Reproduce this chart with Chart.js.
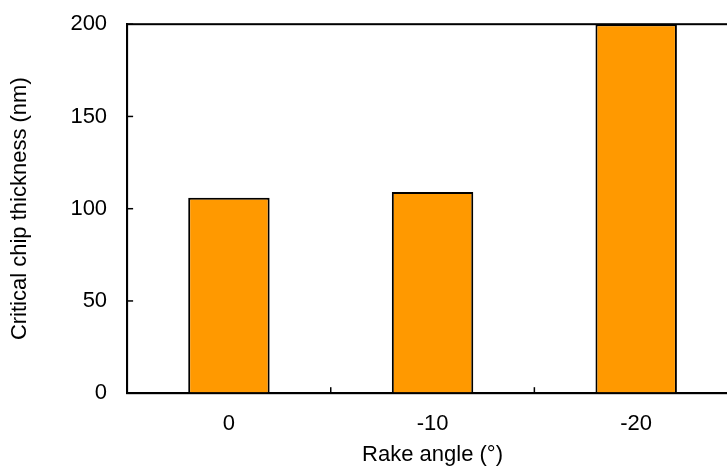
<!DOCTYPE html>
<html>
<head>
<meta charset="utf-8">
<script src="https://cdn.jsdelivr.net/npm/chart.js@4/dist/chart.umd.min.js"></script>
<style>
  html, body { margin: 0; padding: 0; background: #fff; overflow: hidden; }
  #wrap { width: 745px; height: 469px; }
</style>
</head>
<body>
<div id="wrap"><canvas id="rake-chart"></canvas></div>
<script>
// values
const rakeAngles = ["0", "-10", "-20"];
const criticalThickness = [106, 109, 200];
const yTicks = [0, 50, 100, 150, 200];

const fontFamily = "'Liberation Sans', Arial, sans-serif";

// draws the frame and the small inward tick marks like the original plot
const frameAndTicks = {
    id: "frameAndTicks",
    afterDatasetsDraw(chart){
        const ctx = chart.ctx;
        const area = chart.chartArea;
        const x = chart.scales.x;
        const y = chart.scales.y;
        ctx.save();
        ctx.strokeStyle = "#000";
        ctx.lineWidth = 2;
        ctx.strokeRect(area.left, area.top, area.right - area.left, area.bottom - area.top);
        ctx.lineWidth = 1.5;
        yTicks.forEach((v) => {
            const py = y.getPixelForValue(v);
            ctx.beginPath();
            ctx.moveTo(area.left, py);
            ctx.lineTo(area.left + 6, py);
            ctx.stroke();
        });
        for(let i = 0; i < rakeAngles.length - 1; i++){
            const px = (x.getPixelForValue(i) + x.getPixelForValue(i + 1)) / 2;
            ctx.beginPath();
            ctx.moveTo(px, area.bottom);
            ctx.lineTo(px, area.bottom - 6);
            ctx.stroke();
        }
        ctx.restore();
    }
};

new Chart(document.getElementById("rake-chart"), {
    type: "bar",
    data: {
        labels: rakeAngles,
        datasets: [{
            label: "Critical chip thickness",
            data: criticalThickness,
            backgroundColor: "#FF9900",
            borderColor: "#000",
            borderWidth: 2,
            borderSkipped: "bottom",
            categoryPercentage: 1,
            barPercentage: 0.4
        }]
    },
    options: {
        responsive: true,
        maintainAspectRatio: false,
        animation: false,
        devicePixelRatio: 1,
        layout: { padding: { top: 0, right: 7, left: 0, bottom: 0 } },
        plugins: {
            legend: { display: false },
            tooltip: { enabled: false }
        },
        scales: {
            x: {
                grid: { display: false, drawTicks: false },
                border: { display: true, color: "#000", width: 2 },
                ticks: { color: "#000", padding: 18, font: { family: fontFamily, size: 22 } },
                title: {
                    display: true,
                    text: "Rake angle (°)",
                    color: "#000",
                    padding: { top: -14, bottom: 1 },
                    font: { family: fontFamily, size: 22 }
                }
            },
            y: {
                min: 0,
                max: 200,
                afterBuildTicks(scale){
                    scale.ticks = yTicks.map((v) => ({ value: v }));
                },
                // transparent tick marks only to keep the labels off the axis
                grid: { display: true, drawOnChartArea: false, drawTicks: true, tickLength: 9, color: "rgba(0,0,0,0)" },
                border: { display: true, color: "#000", width: 2 },
                ticks: { color: "#000", padding: 11, font: { family: fontFamily, size: 22 } },
                title: {
                    display: true,
                    text: "Critical chip thickness (nm)",
                    color: "#000",
                    padding: { top: 7, bottom: 26 },
                    font: { family: fontFamily, size: 22 }
                }
            }
        }
    },
    plugins: [frameAndTicks]
});
</script>
</body>
</html>
